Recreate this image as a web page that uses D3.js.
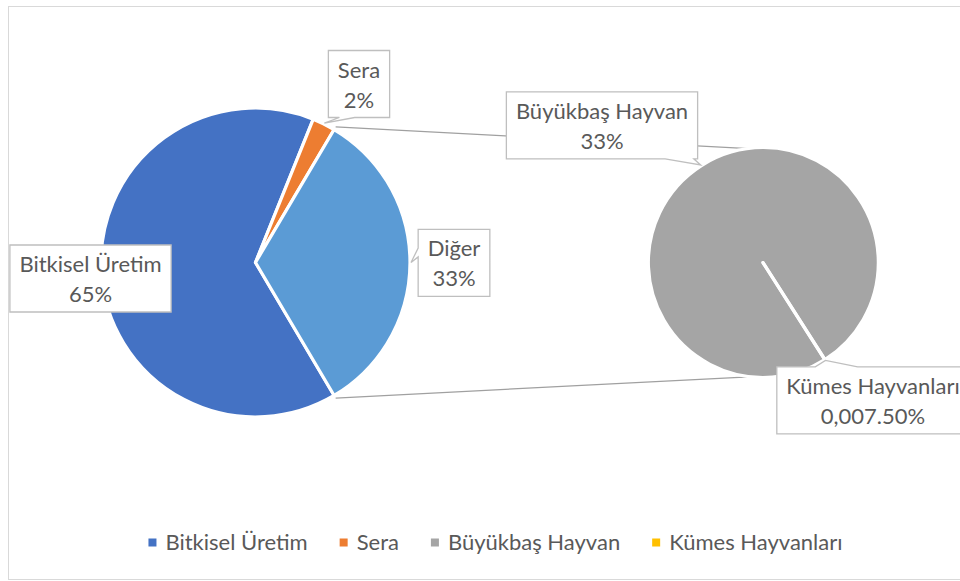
<!DOCTYPE html>
<html>
<head>
<meta charset="utf-8">
<script src="https://cdn.jsdelivr.net/npm/d3@7"></script>
<style>
	body { margin: 0; background: #fff; }
	svg text { font-family: Lato, 'Noto Sans', sans-serif; fill: #595959; }
</style>
</head>
<body>
<svg width="960" height="581"></svg>
<script>
// values (percent of total)
const categories = ['Bitkisel Üretim', 'Sera', 'Büyükbaş Hayvan', 'Kümes Hayvanları'];
const values = [64.6, 2.4, 33.0, 0.0075];
const colors = ['#4472C4', '#ED7D31', '#A5A5A5', '#FFC000'];
const valueLabels = ['65%', '2%', '33%', '0,007.50%'];
const otherName = 'Diğer';
const otherLabel = '33%';
const otherColor = '#5B9BD5';

const svg = d3.select('svg'),
	fontSize = 22,
	deg = Math.PI / 180;

const mainC = {x: 255.5, y: 262.5}, mainR = 154.5;
const subC = {x: 763, y: 262.7}, subR = 115;
const subStart = 147.5 * deg;

// chart area frame
svg.append('rect')
	.attr('x', 8.5).attr('y', 6.5)
	.attr('width', 960).attr('height', 573)
	.attr('fill', 'none')
	.attr('stroke', '#d9d9d9');

let mainData = [
	{name: categories[0], value: values[0], color: colors[0], label: valueLabels[0]},
	{name: categories[1], value: values[1], color: colors[1], label: valueLabels[1]},
	{name: otherName, value: values[2] + values[3], color: otherColor, label: otherLabel}
];
let subData = [
	{name: categories[2], value: values[2], color: colors[2], label: valueLabels[2]},
	{name: categories[3], value: values[3], color: colors[3], label: valueLabels[3]}
];

// "Diğer" slice is centred on the right, facing the second pie
const otherSpan = 2 * Math.PI * mainData[2].value / d3.sum(mainData, d => d.value);
const mainStart = Math.PI / 2 + otherSpan / 2;

let mainArcs = d3.pie().sort(null).value(d => d.value)
	.startAngle(mainStart).endAngle(mainStart + 2 * Math.PI)(mainData);
let subArcs = d3.pie().sort(null).value(d => d.value)
	.startAngle(subStart).endAngle(subStart + 2 * Math.PI)(subData);

function polar(c, r, a) {
	return [c.x + r * Math.sin(a), c.y - r * Math.cos(a)];
}

// series lines between the two pies
const other = mainArcs[2];
const links = [
	[polar(mainC, mainR + 3, other.startAngle), polar(subC, subR, -7 * deg)],
	[polar(mainC, mainR + 3, other.endAngle), polar(subC, subR, 187 * deg)]
];
svg.append('g').selectAll('line')
	.data(links)
	.enter().append('line')
	.attr('x1', d => d[0][0]).attr('y1', d => d[0][1])
	.attr('x2', d => d[1][0]).attr('y2', d => d[1][1])
	.attr('stroke', '#a0a0a0')
	.attr('stroke-width', 1.2);

function drawPie(arcs, c, r) {
	let arc = d3.arc().innerRadius(0).outerRadius(r);
	svg.append('g')
		.attr('transform', `translate(${c.x},${c.y})`)
		.selectAll('path')
		.data(arcs)
		.enter().append('path')
		.attr('d', arc)
		.attr('fill', d => d.data.color)
		.attr('stroke', '#fff')
		.attr('stroke-width', 3.2)
		.attr('stroke-linejoin', 'round');
}
drawPie(mainArcs, mainC, mainR);
drawPie(subArcs, subC, subR);

// data label callouts
const labelLayout = [
	{arc: mainArcs[0], c: mainC, r: mainR, dx: -165, dy: 16},
	{arc: mainArcs[1], c: mainC, r: mainR, dx: 103.5, dy: -178.5, side: 'bottom', base: [0.18, 0.43]},
	{arc: mainArcs[2], c: mainC, r: mainR, dx: 198.5, dy: 0.4, side: 'left', base: [0.28, 0.41]},
	{arc: subArcs[0], c: subC, r: subR, dx: -161, dy: -137.4, side: 'bottom', base: [0.83, 0.98]},
	{arc: subArcs[1], c: subC, r: subR, dx: 110, dy: 137.6, side: 'top', base: [0.2, 0.42]}
];

function calloutPath(b, l, anchor) {
	let w = b.x1 - b.x0, h = b.y1 - b.y0;
	let p = [[b.x0, b.y0]];
	if (l.side === 'top') p.push([b.x0 + l.base[0] * w, b.y0], anchor, [b.x0 + l.base[1] * w, b.y0]);
	p.push([b.x1, b.y0]);
	if (l.side === 'right') p.push([b.x1, b.y0 + l.base[0] * h], anchor, [b.x1, b.y0 + l.base[1] * h]);
	p.push([b.x1, b.y1]);
	if (l.side === 'bottom') p.push([b.x0 + l.base[1] * w, b.y1], anchor, [b.x0 + l.base[0] * w, b.y1]);
	p.push([b.x0, b.y1]);
	if (l.side === 'left') p.push([b.x0, b.y0 + l.base[1] * h], anchor, [b.x0, b.y0 + l.base[0] * h]);
	return 'M' + p.map(q => q.join(',')).join('L') + 'Z';
}

labelLayout.forEach(l => {
	let g = svg.append('g');
	let cx = l.c.x + l.dx, cy = l.c.y + l.dy;
	let path = g.append('path');
	let t1 = g.append('text').attr('x', cx).attr('y', cy - 6.5)
		.attr('text-anchor', 'middle').attr('font-size', fontSize).text(l.arc.data.name);
	let t2 = g.append('text').attr('x', cx).attr('y', cy + 23.5)
		.attr('text-anchor', 'middle').attr('font-size', fontSize).text(l.arc.data.label);
	let w = Math.max(t1.node().getComputedTextLength(), t2.node().getComputedTextLength()) + 19;
	let box = {x0: cx - w / 2, x1: cx + w / 2, y0: cy - 33.5, y1: cy + 33.5};
	let mid = l.arc.data.value < 1 ? l.arc.startAngle : (l.arc.startAngle + l.arc.endAngle) / 2;
	let anchor = polar(l.c, l.r + 1, mid);
	path.attr('d', l.side ? calloutPath(box, l, anchor) : calloutPath(box, {}, null))
		.attr('fill', '#fff')
		.attr('stroke', '#bfbfbf')
		.attr('stroke-width', 1.3);
});

// legend
const legendItems = categories.map((name, i) => ({name, color: colors[i]}));
let legend = svg.append('g');
let items = legend.selectAll('g')
	.data(legendItems)
	.enter().append('g');
items.append('rect')
	.attr('width', 8).attr('height', 8)
	.attr('y', -4)
	.attr('fill', d => d.color);
items.append('text')
	.attr('x', 17).attr('y', 7.5)
	.attr('font-size', fontSize)
	.text(d => d.name);

let x = 0, gap = 32, legendWidth;
items.each(function () {
	let wi = 17 + d3.select(this).select('text').node().getComputedTextLength();
	d3.select(this).attr('transform', `translate(${x},0)`);
	x += wi + gap;
});
legendWidth = x - gap;
legend.attr('transform', `translate(${495.5 - legendWidth / 2},542.5)`);
</script>
</body>
</html>
